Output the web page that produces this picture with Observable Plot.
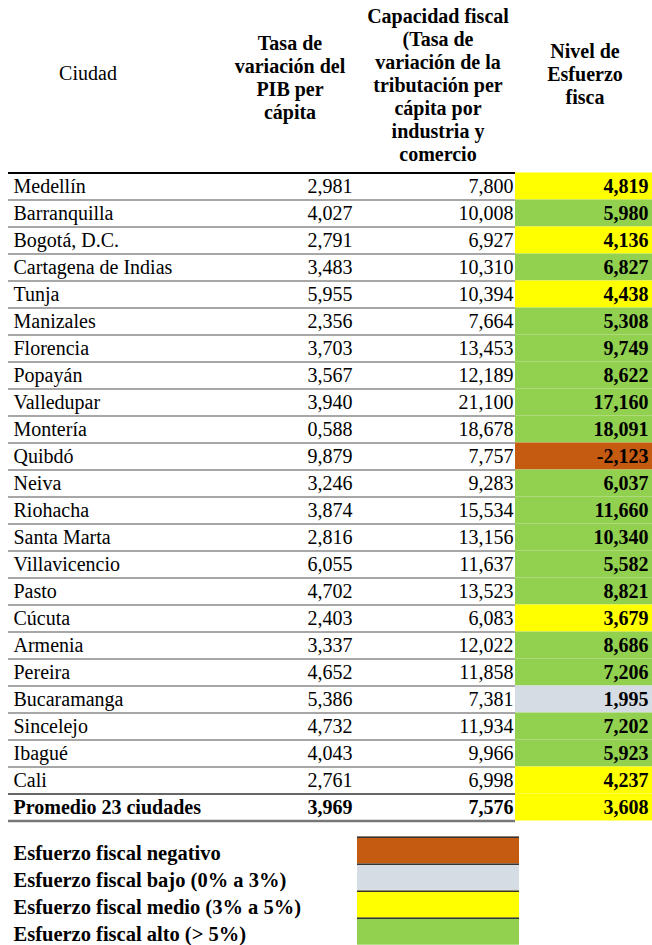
<!DOCTYPE html>
<html><head><meta charset="utf-8">
<script src="https://cdn.jsdelivr.net/npm/d3@7"></script>
<script src="https://cdn.jsdelivr.net/npm/@observablehq/plot@0.6"></script>
</head><body style="margin:0;background:#fff;color:#000">
<div id="wrap" style="position:relative;width:652px"><div id="header" style="position:relative;height:170px"></div><div id="chart"></div></div>
<script>
// ---- data ----
const cities = ["Medellín","Barranquilla","Bogotá, D.C.","Cartagena de Indias","Tunja","Manizales","Florencia","Popayán","Valledupar","Montería","Quibdó","Neiva","Riohacha","Santa Marta","Villavicencio","Pasto","Cúcuta","Armenia","Pereira","Bucaramanga","Sincelejo","Ibagué","Cali"];
const pibPerCapita = [2.981,4.027,2.791,3.483,5.955,2.356,3.703,3.567,3.940,0.588,9.879,3.246,3.874,2.816,6.055,4.702,2.403,3.337,4.652,5.386,4.732,4.043,2.761];
const capacidadFiscal = [7.800,10.008,6.927,10.310,10.394,7.664,13.453,12.189,21.100,18.678,7.757,9.283,15.534,13.156,11.637,13.523,6.083,12.022,11.858,7.381,11.934,9.966,6.998];
const esfuerzoFiscal = [4.819,5.980,4.136,6.827,4.438,5.308,9.749,8.622,17.160,18.091,-2.123,6.037,11.660,10.340,5.582,8.821,3.679,8.686,7.206,1.995,7.202,5.923,4.237];
const promedioLabel = "Promedio 23 ciudades";
const promedioValues = [3.969, 7.576, 3.608];
const headerLabels = ["Ciudad","Tasa de\nvariación del\nPIB per\ncápita","Capacidad fiscal\n(Tasa de\nvariación de la\ntributación per\ncápita por\nindustria y\ncomercio","Nivel de\nEsfuerzo\nfisca"];
const legendLabels = ["Esfuerzo fiscal negativo","Esfuerzo fiscal bajo (0% a 3%)","Esfuerzo fiscal medio (3% a 5%)","Esfuerzo fiscal alto (> 5%)"];
const legendColors = ["#C55A11","#D6DCE4","#FFFF00","#92D050"];

// ---- layout (pixels) ----
const FONT = '"Liberation Serif"';
const L = {lineL: 8, cityX: 13, pibX: 352, capX: 513, nivL: 515, nivR: 652, nivX: 648, legL: 357, legR: 519, rowH: 27, top: 2.5, legendGap: 0.6, fs: 20, legFs: 20.5};
const headerPos = [{x:88,y:73,reg:true},{x:290,y:78},{x:438,y:85},{x:585,y:74}];

document.body.style.fontFamily = FONT;
// header (HTML)
const hdr = document.getElementById("header");
headerLabels.forEach((t,i)=>{
  const d = document.createElement("div");
  Object.assign(d.style, {position:"absolute", textAlign:"center", fontWeight: headerPos[i].reg ? "normal" : "bold",
    fontSize: "20px", lineHeight: "23px", transform: "translate(-50%,-50%)", whiteSpace: "nowrap",
    left: headerPos[i].x + "px", top: headerPos[i].y + "px", fontFamily: FONT});
  d.innerHTML = t.split("\n").join("<br>");
  hdr.appendChild(d);
});

const fmt = v => (v < 0 ? "-" : "") + Math.abs(v).toFixed(3).replace(".", ",");
const category = v => v < 0 ? legendLabels[0] : v < 3 ? legendLabels[1] : v < 5 ? legendLabels[2] : legendLabels[3];

const rows = cities.map((c,i)=>({i, label:c, pib:pibPerCapita[i], cap:capacidadFiscal[i], esf:esfuerzoFiscal[i]}));
const nC = rows.length;
const prom = [{i:nC, label:promedioLabel, pib:promedioValues[0], cap:promedioValues[1], esf:promedioValues[2]}];
const allRows = rows.concat(prom);
const legend = legendLabels.map((l,k)=>({k, label:l, y: nC + 1 + L.legendGap + k}));

const H = 945 - 170;
const units = (H - L.top) / L.rowH;
const sepLines = d3.range(1, nC);

const T = (data, opts) => Plot.text(data, {fontSize: L.fs, ...opts});

const chart = Plot.plot({
  width: 652, height: H,
  marginTop: 0, marginBottom: 0, marginLeft: 0, marginRight: 0,
  x: {domain: [0, 652], range: [0, 652], axis: null},
  y: {domain: [0, units], range: [L.top, L.top + units * L.rowH], axis: null},
  color: {type: "ordinal", domain: legendLabels, range: legendColors},
  style: {fontFamily: FONT},
  marks: [
    Plot.rect(allRows, {x1: L.nivL, x2: L.nivR, y1: d=>d.i, y2: d=>d.i+1, fill: d=>category(d.esf)}),
    Plot.ruleY(sepLines, {y: d=>d, x1: L.lineL, x2: L.nivL, stroke: "#8a8a8a", strokeWidth: 1.5}),
    Plot.ruleY([nC], {y: d=>d, x1: L.lineL, x2: L.nivL, stroke: "#333", strokeWidth: 1.5}),
    Plot.ruleY([nC + 1], {y: d=>d, x1: L.lineL, x2: L.nivL, stroke: "#777", strokeWidth: 2.5}),
    Plot.ruleY([0], {y: d=>d, x1: L.lineL, x2: L.nivL, stroke: "#000", strokeWidth: 2}),
    // city rows
    T(rows, {x: L.cityX, y: d=>d.i+0.5, text: "label", textAnchor: "start"}),
    T(rows, {x: L.pibX, y: d=>d.i+0.5, text: d=>fmt(d.pib), textAnchor: "end"}),
    T(rows, {x: L.capX, y: d=>d.i+0.5, text: d=>fmt(d.cap), textAnchor: "end"}),
    T(rows, {x: L.nivX, y: d=>d.i+0.5, text: d=>fmt(d.esf), textAnchor: "end", fontWeight: "bold"}),
    // promedio row
    T(prom, {x: L.cityX, y: d=>d.i+0.5, text: "label", textAnchor: "start", fontWeight: "bold"}),
    T(prom, {x: L.pibX, y: d=>d.i+0.5, text: d=>fmt(d.pib), textAnchor: "end", fontWeight: "bold"}),
    T(prom, {x: L.capX, y: d=>d.i+0.5, text: d=>fmt(d.cap), textAnchor: "end", fontWeight: "bold"}),
    T(prom, {x: L.nivX, y: d=>d.i+0.5, text: d=>fmt(d.esf), textAnchor: "end", fontWeight: "bold"}),
    // legend
    Plot.rect(legend, {x1: L.legL, x2: L.legR, y1: d=>d.y, y2: d=>d.y+1, fill: "label"}),
    Plot.ruleY(legend, {y: "y", x1: L.legL, x2: L.legR, stroke: "#333", strokeWidth: 1.5}),
    T(legend, {x: L.cityX, y: d=>d.y+0.5, text: "label", textAnchor: "start", fontWeight: "bold", fontSize: L.legFs, dy: 3})
  ]
});
document.getElementById("chart").appendChild(chart);
</script>
</body></html>
